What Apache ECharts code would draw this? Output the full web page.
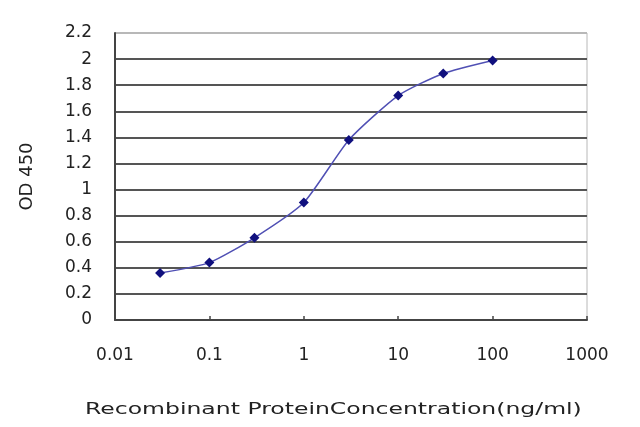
<!DOCTYPE html>
<html>
<head>
<meta charset="utf-8">
<script src="https://cdn.jsdelivr.net/npm/echarts@6/dist/echarts.min.js"></script>
<style>
  html, body { margin: 0; padding: 0; background: #fff; }
  #chart { width: 640px; height: 427px; }
</style>
</head>
<body>
<div id="chart"></div>
<script>
// Concentration (ng/ml) and OD 450 readings
const concentrations = [0.03, 0.1, 0.3, 1, 3, 10, 30, 100];
const odValues = [0.36, 0.44, 0.63, 0.90, 1.38, 1.72, 1.89, 1.99];

const xAxisTitle = 'Recombinant ProteinConcentration(ng/ml)';
const yAxisTitle = 'OD 450';

const chart = echarts.init(document.getElementById('chart'));

// Horizontal grid lines: dark except the top one
const splitColors = [];
for (let i = 0; i < 11; i++) splitColors.push('#555');
splitColors.push('#b8b8b8');

const labelFont = 'DejaVu Sans';

const option = {
  animation: false,
  graphic: [{
    type: 'text',
    x: 85,
    y: 402,
    scaleX: 1.47,
    style: {
      text: xAxisTitle,
      font: '16px "DejaVu Sans"',
      fill: '#222'
    }
  }],
  grid: {
    left: 115,
    right: 53,
    top: 33,
    bottom: 107,
    show: true,
    borderColor: '#b8b8b8',
    borderWidth: 1
  },
  xAxis: {
    type: 'log',
    logBase: 10,
    min: 0.01,
    max: 1000,
    axisLine: { lineStyle: { color: '#444', width: 2 } },
    axisTick: { inside: true, length: 4, lineStyle: { color: '#444', width: 1.5 } },
    axisLabel: {
      margin: 27,
      fontFamily: labelFont,
      fontSize: 17,
      color: '#222',
      formatter: v => String(+v.toPrecision(6))
    },
    splitLine: { show: false }
  },
  yAxis: {
    type: 'value',
    min: 0,
    max: 2.2,
    interval: 0.2,
    name: yAxisTitle,
    nameLocation: 'middle',
    nameGap: 79,
    nameTextStyle: {
      fontFamily: labelFont,
      fontSize: 18,
      color: '#222'
    },
    axisLine: { show: true, lineStyle: { color: '#444', width: 2 } },
    axisTick: { show: false },
    axisLabel: {
      margin: 23,
      fontFamily: labelFont,
      fontSize: 17,
      color: '#222'
    },
    splitLine: { show: true, lineStyle: { color: splitColors, width: 2 } }
  },
  series: [{
    type: 'line',
    data: concentrations.map((c, i) => [c, odValues[i]]),
    smooth: 0.2,
    symbol: 'diamond',
    symbolSize: 10,
    lineStyle: { color: '#5050b4', width: 1.5 },
    itemStyle: { color: '#10107e' }
  }]
};

chart.setOption(option);
</script>
</body>
</html>
